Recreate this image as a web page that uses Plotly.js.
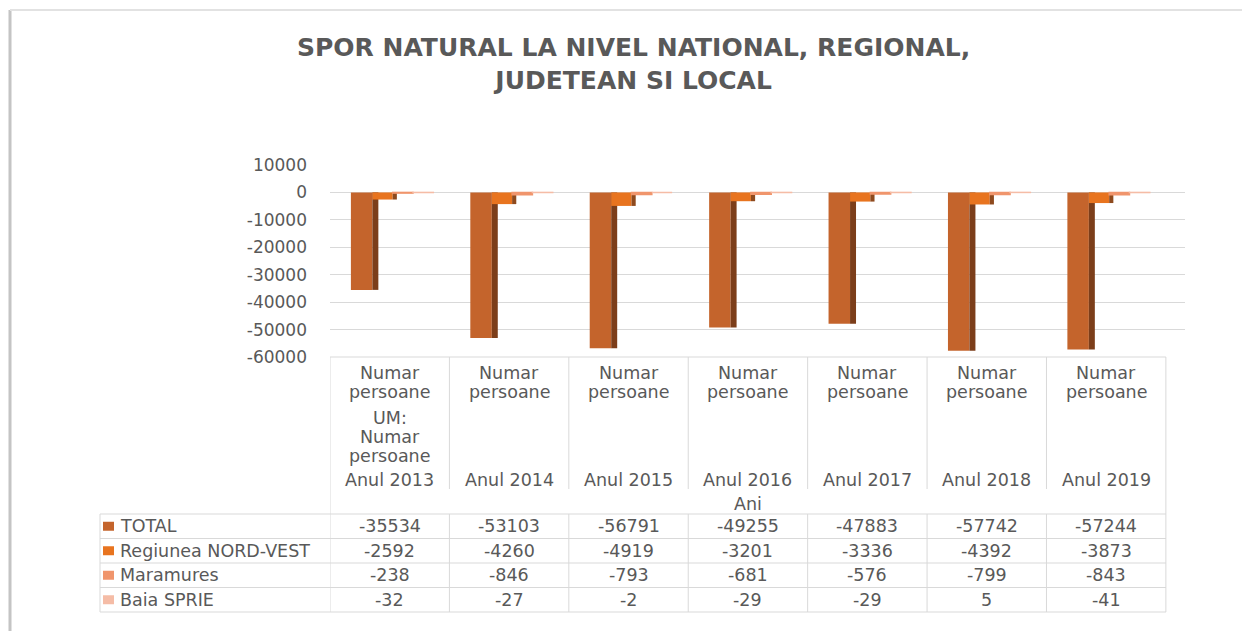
<!DOCTYPE html>
<html>
<head>
<meta charset="utf-8">
<script src="https://cdn.plot.ly/plotly-3.0.1.min.js"></script>
<style>
  html, body { margin: 0; padding: 0; background: #ffffff; }
  #chart { width: 1242px; height: 631px; }
</style>
</head>
<body>
<div id="chart"></div>
<script>
// ---------------- DATA ----------------
const categories = ["Anul 2013", "Anul 2014", "Anul 2015", "Anul 2016", "Anul 2017", "Anul 2018", "Anul 2019"];
const seriesNames = ["TOTAL", "Regiunea NORD-VEST", "Maramures", "Baia SPRIE"];
const total      = [-35534, -53103, -56791, -49255, -47883, -57742, -57244];
const nordVest   = [-2592, -4260, -4919, -3201, -3336, -4392, -3873];
const maramures  = [-238, -846, -793, -681, -576, -799, -843];
const baiaSprie  = [-32, -27, -2, -29, -29, 5, -41];
const yTickVals  = [10000, 0, -10000, -20000, -30000, -40000, -50000, -60000];
const yTickText  = ["10000", "0", "-10000", "-20000", "-30000", "-40000", "-50000", "-60000"];
const unitLabel  = "Numar persoane";
const umLabel    = "UM: Numar persoane";
const axisTitle  = "Ani";
const chartTitle = "SPOR NATURAL LA NIVEL NATIONAL, REGIONAL,<br>JUDETEAN SI LOCAL";

// ---------------- STYLE ----------------
const W = 1242, H = 631;
const FONT = "DejaVu Sans";
const TXT = "#595959";
const GRID = "#D9D9D9";
const frontColors = ["#C4642C", "#E8741F", "#F0956C", "#F5BCA6"];
const sideColors  = ["#7C3E1A", "#8E4A1E"];
const py = v => 1 - v / H;   // pixel-from-top -> paper y
const px = v => v / W;       // pixel-from-left -> paper x

const values = [total, nordVest, maramures, baiaSprie];
const offsets = [-0.325, -0.145, 0.025, 0.195];
const widths  = [0.18, 0.17, 0.17, 0.17];

const traces = [];
values.forEach((vals, i) => {
  traces.push({
    type: "bar", x: categories, y: vals, name: seriesNames[i],
    offset: offsets[i], width: widths[i],
    marker: { color: frontColors[i], line: { width: i >= 2 ? 1.5 : 0, color: frontColors[i] } },
    showlegend: false, hoverinfo: "x+y+name"
  });
  if (i < 2) {
    traces.push({
      type: "bar", x: categories, y: vals, name: seriesNames[i],
      offset: offsets[i] + widths[i], width: i === 0 ? 0.05 : 0.035,
      marker: { color: sideColors[i] },
      showlegend: false, hoverinfo: "skip"
    });
  }
});

// ---------------- TABLE / LABELS ----------------
const shapes = [];
const annotations = [];
const lineStyle = { color: GRID, width: 1 };

// chart frame with shadow
shapes.push({ type: "line", xref: "paper", yref: "paper", x0: px(10), x1: px(10), y0: py(10), y1: py(H), line: { color: "#C4C4C4", width: 3 } });
shapes.push({ type: "line", xref: "paper", yref: "paper", x0: px(10), x1: px(W), y0: py(10), y1: py(10), line: { color: "#E2E2E2", width: 2 } });

const headTop = 357, headBot = 489, rowTop = 514, rowH = 24.5;
const nRows = seriesNames.length;
const tableBot = rowTop + rowH * nRows;

// vertical lines between categories
for (let c = 0; c <= categories.length; c++) {
  const edge = (c === 0 || c === categories.length);
  shapes.push({ type: "line", xref: "x", yref: "paper", x0: c - 0.5, x1: c - 0.5,
    y0: py(headTop), y1: py(edge ? tableBot : headBot), line: lineStyle });
  if (!edge) {
    shapes.push({ type: "line", xref: "x", yref: "paper", x0: c - 0.5, x1: c - 0.5,
      y0: py(rowTop), y1: py(tableBot), line: lineStyle });
  }
}
// top of header
shapes.push({ type: "line", xref: "x", yref: "paper", x0: -0.5, x1: categories.length - 0.5,
  y0: py(headTop), y1: py(headTop), line: lineStyle });
// horizontal row lines
for (let r = 0; r <= nRows; r++) {
  shapes.push({ type: "line", xref: "paper", yref: "paper", x0: px(100), x1: px(1166),
    y0: py(rowTop + r * rowH), y1: py(rowTop + r * rowH), line: lineStyle });
}
// left border of label column
shapes.push({ type: "line", xref: "paper", yref: "paper", x0: px(100), x1: px(100),
  y0: py(rowTop), y1: py(tableBot), line: lineStyle });

const fsT = 17.5;
// category header labels
const unitWords = unitLabel.split(" ");
categories.forEach((cat, c) => {
  [[unitWords[0], 373], [unitWords[1], 392]].forEach(([t, y]) => {
    annotations.push({ xref: "x", yref: "paper", x: c, y: py(y), text: t, showarrow: false,
      xanchor: "center", yanchor: "middle", font: { family: FONT, size: fsT, color: TXT } });
  });
  if (c === 0) {
    umLabel.replace("UM: ", "UM:|").replace(" ", "|").split("|").forEach((t, k) => {
      annotations.push({ xref: "x", yref: "paper", x: c, y: py([418, 437, 456][k]), text: t, showarrow: false,
        xanchor: "center", yanchor: "middle", font: { family: FONT, size: fsT, color: TXT } });
    });
  }
  annotations.push({ xref: "x", yref: "paper", x: c, y: py(480), text: cat, showarrow: false,
    xanchor: "center", yanchor: "middle", font: { family: FONT, size: fsT, color: TXT } });
});
// axis title "Ani"
annotations.push({ xref: "x", yref: "paper", x: (categories.length - 1) / 2, y: py(504), text: axisTitle,
  showarrow: false, xanchor: "center", yanchor: "middle", font: { family: FONT, size: fsT, color: TXT } });

// data rows
seriesNames.forEach((name, r) => {
  const yc = rowTop + rowH * (r + 0.5);
  shapes.push({ type: "rect", xref: "paper", yref: "paper", x0: px(103), x1: px(114),
    y0: py(yc + 4.5), y1: py(yc - 4.5), fillcolor: frontColors[r], line: { width: 0 } });
  annotations.push({ xref: "paper", yref: "paper", x: px(118), y: py(yc), text: name, showarrow: false,
    xanchor: "left", yanchor: "middle", font: { family: FONT, size: fsT, color: TXT } });
  values[r].forEach((v, c) => {
    annotations.push({ xref: "x", yref: "paper", x: c, y: py(yc), text: String(v), showarrow: false,
      xanchor: "center", yanchor: "middle", font: { family: FONT, size: fsT, color: TXT } });
  });
});

// chart title
annotations.push({ xref: "paper", yref: "paper", x: px(633), y: py(64), text: "<b>" + chartTitle + "</b>",
  showarrow: false, xanchor: "center", yanchor: "middle", align: "center",
  font: { family: FONT, size: 25, color: TXT } });

const layout = {
  width: W, height: H,
  margin: { l: 0, r: 0, t: 0, b: 0 },
  paper_bgcolor: "#ffffff", plot_bgcolor: "rgba(0,0,0,0)",
  barmode: "overlay",
  xaxis: {
    type: "category", domain: [px(330), px(1185)],
    range: [-0.5, 6.66], showticklabels: false, showgrid: false,
    zeroline: false, showline: false, ticks: "", fixedrange: true
  },
  yaxis: {
    domain: [py(357), py(165)], range: [-60000, 10000],
    tickvals: yTickVals, ticktext: yTickText,
    showgrid: true, gridcolor: GRID, gridwidth: 1.2,
    zeroline: false, showline: false, ticks: "",
    ticklabelstandoff: 22,
    tickfont: { family: FONT, size: 17, color: TXT }, fixedrange: true
  },
  shapes: shapes,
  annotations: annotations
};

Plotly.newPlot("chart", traces, layout, { displayModeBar: false, staticPlot: true });
</script>
</body>
</html>
